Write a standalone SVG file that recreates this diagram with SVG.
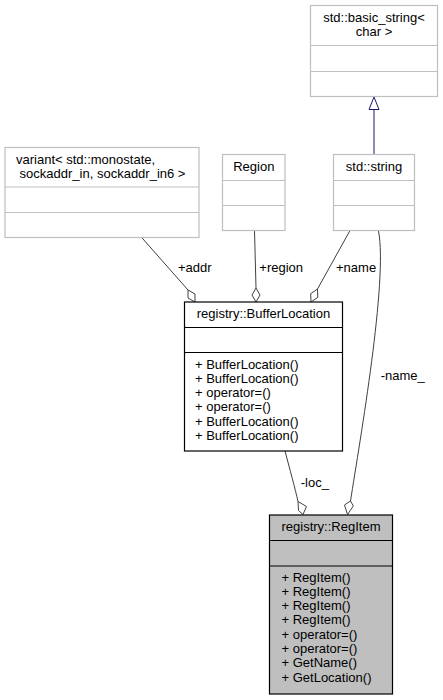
<svg xmlns="http://www.w3.org/2000/svg" width="443" height="700" viewBox="0 0 443 700">
<defs>
<style>
text{font-family:"Liberation Sans",Arial,sans-serif;font-size:13px;fill:#000}
.t{text-anchor:middle}
.ext{fill:#fff;stroke:#bfbfbf;stroke-width:1.2}
.doc{fill:#fff;stroke:#000;stroke-width:1.2}
.main{fill:#bfbfbf;stroke:#000;stroke-width:1.2}
.dg{stroke:#bfbfbf;stroke-width:1.2}
.db{stroke:#000;stroke-width:1.2}
.e{fill:none;stroke:#404040;stroke-width:1}
.d{fill:#fff;stroke:#404040;stroke-width:1}
.inh{fill:none;stroke:#191970;stroke-width:1}
.tri{fill:#fff;stroke:#191970;stroke-width:1}
</style>
</defs>
<rect width="443" height="700" fill="#fff"/>
<g id="connectors">
<path class="inh" d="M374,154.5 L374,109.5"/>
<polygon class="tri" points="374,97 379,109.5 369,109.5"/>
<path class="e" d="M141.7,237.5 L188,290"/>
<polygon class="d" points="188,290 195,294 195,302 188,298"/>
<path class="e" d="M254.5,230.5 L256,288"/>
<polygon class="d" points="256,288 260,295 256,302 252,295"/>
<path class="e" d="M350,230.5 L317.5,289"/>
<polygon class="d" points="317.5,289 317.8,297.3 311,302 310.7,293.7"/>
<path class="e" d="M285,451 C290,470 295,488 298,501.5"/>
<polygon class="d" points="298,501.5 306.5,506.5 303,514.5 298.5,510.5"/>
<path class="e" d="M378.5,231 C388,280 360,440 350.5,501"/>
<polygon class="d" points="350.5,501 353.3,506 347.5,514.5 344.5,505"/>
<text x="178" y="272">+addr</text>
<text x="259.3" y="272">+region</text>
<text x="336" y="272">+name</text>
<text x="380.7" y="380">-name_</text>
<text x="300.7" y="487">-loc_</text>
</g>
<g id="node-basic_string">
<rect class="ext" x="310.5" y="5.5" width="127" height="91"/>
<line class="dg" x1="310.5" y1="45.5" x2="437.5" y2="45.5"/>
<line class="dg" x1="310.5" y1="71.5" x2="437.5" y2="71.5"/>
<text class="t" x="374" y="22">std::basic_string&lt;</text>
<text class="t" x="374" y="36">char &gt;</text>
</g>
<g id="node-string">
<rect class="ext" x="333.5" y="154.5" width="81" height="76"/>
<line class="dg" x1="333.5" y1="180.5" x2="414.5" y2="180.5"/>
<line class="dg" x1="333.5" y1="205.5" x2="414.5" y2="205.5"/>
<text class="t" x="374" y="171">std::string</text>
</g>
<g id="node-variant">
<rect class="ext" x="5" y="147.5" width="194" height="90"/>
<line class="dg" x1="5" y1="187" x2="199" y2="187"/>
<line class="dg" x1="5" y1="212.5" x2="199" y2="212.5"/>
<text x="16" y="164">variant&lt; std::monostate,</text>
<text x="16" y="178" xml:space="preserve"> sockaddr_in, sockaddr_in6 &gt;</text>
</g>
<g id="node-region">
<rect class="ext" x="222.5" y="154.5" width="62.5" height="76"/>
<line class="dg" x1="222.5" y1="180.5" x2="285" y2="180.5"/>
<line class="dg" x1="222.5" y1="205.5" x2="285" y2="205.5"/>
<text class="t" x="253.8" y="171">Region</text>
</g>
<g id="node-bufferlocation">
<rect class="doc" x="184.5" y="302" width="158" height="149"/>
<line class="db" x1="184.5" y1="327.5" x2="342.5" y2="327.5"/>
<line class="db" x1="184.5" y1="352.5" x2="342.5" y2="352.5"/>
<text class="t" x="263.5" y="317.5">registry::BufferLocation</text>
<text x="195" y="368.5">+ BufferLocation()</text>
<text x="195" y="382.8">+ BufferLocation()</text>
<text x="195" y="397.1">+ operator=()</text>
<text x="195" y="411.4">+ operator=()</text>
<text x="195" y="425.7">+ BufferLocation()</text>
<text x="195" y="440">+ BufferLocation()</text>
</g>
<g id="node-regitem">
<rect class="main" x="269.5" y="515" width="123" height="179"/>
<line class="db" x1="269.5" y1="540.5" x2="392.5" y2="540.5"/>
<line class="db" x1="269.5" y1="566" x2="392.5" y2="566"/>
<text class="t" x="331" y="530.7">registry::RegItem</text>
<text x="281.5" y="581.5">+ RegItem()</text>
<text x="281.5" y="595.8">+ RegItem()</text>
<text x="281.5" y="610.1">+ RegItem()</text>
<text x="281.5" y="624.4">+ RegItem()</text>
<text x="281.5" y="638.7">+ operator=()</text>
<text x="281.5" y="653">+ operator=()</text>
<text x="281.5" y="667.3">+ GetName()</text>
<text x="281.5" y="681.6">+ GetLocation()</text>
</g>
</svg>
